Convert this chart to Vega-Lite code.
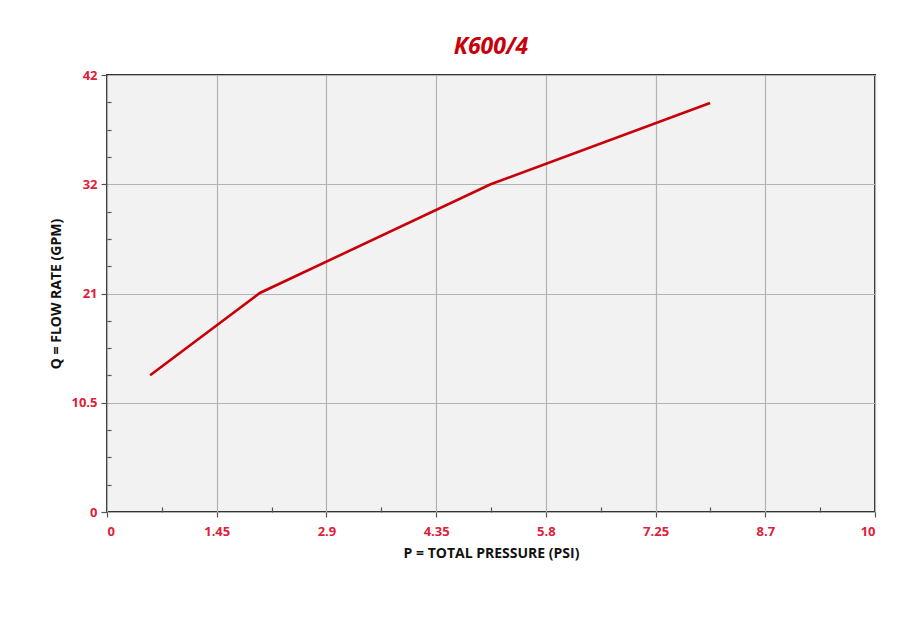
{
  "$schema": "https://vega.github.io/schema/vega-lite/v6.json",
  "width": 768,
  "height": 437,
  "autosize": "none",
  "padding": {"left": 107, "top": 75, "right": 41, "bottom": 131},
  "background": "#ffffff",
  "title": {
    "text": "K600/4",
    "color": "#c8000a",
    "font": "Open Sans",
    "fontSize": 23,
    "fontWeight": "bold",
    "fontStyle": "italic",
    "offset": 10
  },
  "config": {
    "view": {"fill": "#f2f2f2", "stroke": "#333333", "strokeWidth": 2},
    "axis": {
      "labelFont": "Open Sans",
      "labelFontWeight": "bold",
      "labelFontSize": 13,
      "labelColor": "#e0203a",
      "titleFont": "Open Sans",
      "titleFontWeight": "bold",
      "titleFontSize": 14,
      "titleColor": "#111111",
      "domain": false,
      "gridColor": "#b3b3b3",
      "gridWidth": 1.2,
      "gridOpacity": 1,
      "tickColor": "#555555",
      "tickWidth": 1.2
    }
  },
  "data": {
    "values": [
      {"p": 0.57, "q": 13.15},
      {"p": 2.02, "q": 21.05},
      {"p": 5.07, "q": 31.5},
      {"p": 7.97, "q": 39.3}
    ]
  },
  "layer": [
    {
      "mark": {"type": "line", "strokeOpacity": 0},
      "encoding": {
        "x": {
          "field": "p", "type": "quantitative",
          "scale": {"domain": [0, 10.15], "nice": false, "zero": true},
          "axis": {
            "orient": "bottom",
            "values": [0, 1.45, 2.9, 4.35, 5.8, 7.25, 8.7, 10.15],
            "labelExpr": "datum.value > 10 ? '10' : format(datum.value, '.2~f')",
            "grid": true,
            "tickSize": 5,
            "labelPadding": 8,
            "title": "P = TOTAL PRESSURE (PSI)",
            "titlePadding": 8
          }
        },
        "y": {
          "field": "q", "type": "quantitative",
          "scale": {"domain": [0, 42], "nice": false},
          "axis": {
            "orient": "left",
            "values": [0, 10.5, 21, 31.5, 42],
            "labelExpr": "datum.value == 31.5 ? '32' : format(datum.value, '.1~f')",
            "grid": true,
            "tickSize": 6,
            "labelPadding": 4,
            "title": "Q = FLOW RATE (GPM)",
            "titlePadding": 7
          }
        }
      }
    },
    {
      "mark": {"type": "line", "color": "#c8000a", "strokeWidth": 2.6},
      "encoding": {
        "x": {
          "field": "p", "type": "quantitative",
          "axis": {
            "orient": "bottom",
            "values": [0.725, 2.175, 3.625, 5.075, 6.525, 7.975, 9.425],
            "labels": false,
            "grid": false,
            "tickSize": -5,
            "title": null
          }
        },
        "y": {
          "field": "q", "type": "quantitative",
          "axis": {
            "orient": "left",
            "values": [2.625, 5.25, 7.875, 13.125, 15.75, 18.375, 23.625, 26.25, 28.875, 34.125, 36.75, 39.375],
            "labels": false,
            "grid": false,
            "tickSize": -4,
            "title": null
          }
        }
      }
    }
  ],
  "resolve": {"axis": {"x": "independent", "y": "independent"}}
}
